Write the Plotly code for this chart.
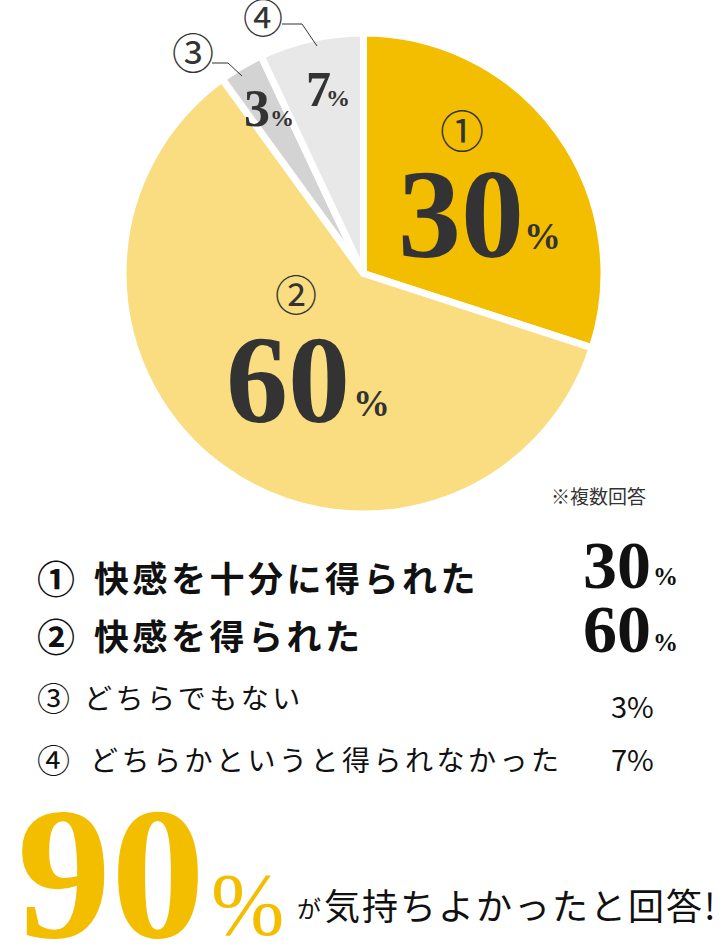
import plotly.graph_objects as go

W, H = 722, 948

# ---- data ----
marks = ["①", "②", "③", "④"]
labels = ["快感を十分に得られた", "快感を得られた", "どちらでもない", "どちらかというと得られなかった"]
values = [30, 60, 3, 7]
total_good = values[0] + values[1]   # 90
note = "※複数回答"
tail = "気持ちよかったと回答!"

colors = ["#F4BE00", "#F9DD80", "#D3D3D3", "#E8E8E8"]
DARK = "#333333"
INK = "#111111"
GOLD = "#F4BE00"
SERIF = "Liberation Serif, DejaVu Serif, Noto Sans CJK JP"
SANS = "Noto Sans CJK JP, Noto Sans, sans-serif"


def fx(x):
    return x / W


def fy(y):
    return 1 - y / H


annos = []


def txt(x, y, s, size, color=DARK, family=SERIF, anchor="center", weight="normal"):
    annos.append(dict(
        x=fx(x), y=fy(y), xref="paper", yref="paper", text=s, showarrow=False,
        xanchor=anchor, yanchor="middle",
        font=dict(size=size, color=color, family=family, weight=weight),
    ))


def spaced(s, px):
    return f'<span style="letter-spacing:{px}px">{s}</span>'


fig = go.Figure()

# pie: centre ~(363.5, 273.5), radius ~237 + half the white stroke
cx, cy, r = 363.5, 273.5, 240.5
fig.add_trace(go.Pie(
    values=values, labels=labels, sort=False, direction="clockwise", rotation=0,
    marker=dict(colors=colors, line=dict(color="white", width=7)),
    textinfo="none", hoverinfo="label+percent", showlegend=False,
    domain=dict(x=[fx(cx - r), fx(cx + r)], y=[fy(cy + r), fy(cy - r)]),
))

# labels inside the pie
txt(462, 133, marks[0], 44)
txt(461, 215, str(values[0]), 126, weight="bold")
txt(542, 236, "%", 37, weight="bold")

txt(296, 297, marks[1], 42)
txt(288, 381, str(values[1]), 124, weight="bold")
txt(371, 403, "%", 37, weight="bold")

txt(257, 109, str(values[2]), 52, weight="bold")
txt(282, 118, "%", 24, weight="bold")
txt(193, 55, marks[2], 42)

txt(318, 89, str(values[3]), 50, weight="bold")
txt(338, 98, "%", 24, weight="bold")
txt(263, 20, marks[3], 40)

# leader lines for the two small slices
shapes = []
for pts in [[(212, 63), (228, 63), (242, 76)], [(282, 24), (302, 24), (317, 46)]]:
    for (x0, y0), (x1, y1) in zip(pts[:-1], pts[1:]):
        shapes.append(dict(type="line", xref="paper", yref="paper",
                           x0=fx(x0), y0=fy(y0), x1=fx(x1), y1=fy(y1),
                           line=dict(color=DARK, width=1)))

txt(598, 495, note, 19, family=SANS)

# legend rows
txt(56, 576, marks[0], 38, color=INK, family=SANS, weight="bold")
txt(92, 576, spaced(labels[0], 3.5), 35, color=INK, family=SANS, anchor="left", weight="bold")
txt(617, 565, str(values[0]), 68, color=INK, weight="bold")
txt(665, 576, "%", 25, color=INK, weight="bold")

txt(56, 634, marks[1], 38, color=INK, family=SANS, weight="bold")
txt(92, 634, spaced(labels[1], 3.5), 35, color=INK, family=SANS, anchor="left", weight="bold")
txt(617, 629, str(values[1]), 68, color=INK, weight="bold")
txt(665, 642, "%", 25, color=INK, weight="bold")

txt(54, 697, marks[2], 33, color=INK, family=SANS)
txt(82, 697, spaced(labels[2], 3.5), 28, color=INK, family=SANS, anchor="left")
txt(632, 705, f"{values[2]}%", 29, color=INK, family=SANS)

txt(54, 759, marks[3], 33, color=INK, family=SANS)
txt(88, 759, spaced(labels[3], 3.5), 28, color=INK, family=SANS, anchor="left")
txt(632, 758, f"{values[3]}%", 29, color=INK, family=SANS)

# bottom headline
txt(111, 873, str(total_good), 188, color=GOLD, weight="bold")
txt(247, 904, "%", 88, color=GOLD)
txt(309, 907, "が", 24, color=INK, family=SANS)
txt(322, 904, spaced(tail, 2), 36, color=INK, family=SANS, anchor="left")

fig.update_layout(
    width=W, height=H, margin=dict(l=0, r=0, t=0, b=0),
    paper_bgcolor="white", plot_bgcolor="white",
    annotations=annos, shapes=shapes,
)

# drop the default 8px body margin so the figure sits at the page corner
fig.write_html("out.html", config={"displayModeBar": False},
               post_script="document.body.style.margin='0';")
